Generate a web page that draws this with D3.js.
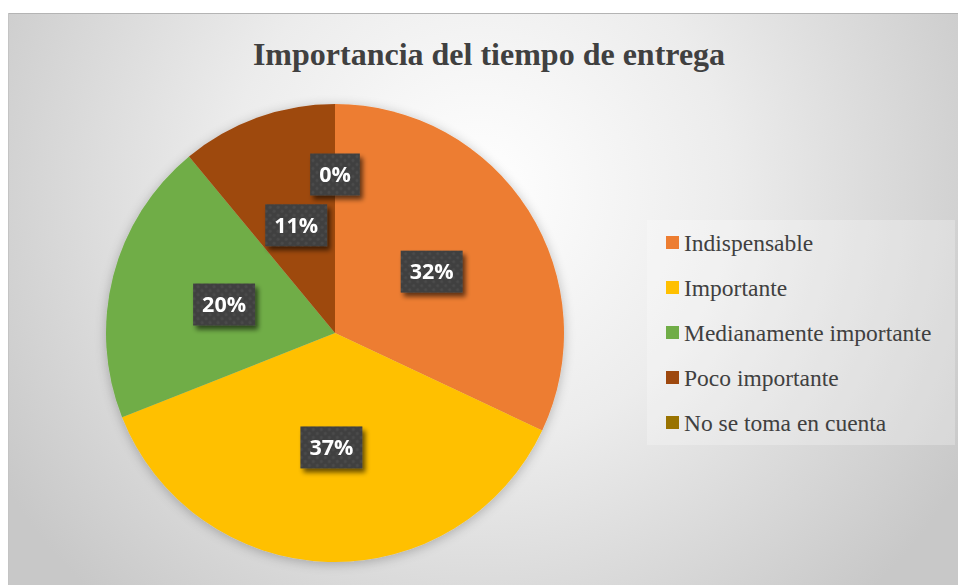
<!DOCTYPE html>
<html>
<head>
<meta charset="utf-8">
<script src="https://cdn.jsdelivr.net/npm/d3@7"></script>
<style>
  body { margin: 0; background: #ffffff; }
</style>
</head>
<body>
<div id="chart"></div>
<script>
var categories = ["Indispensable", "Importante", "Medianamente importante", "Poco importante", "No se toma en cuenta"];
var values = [32, 37, 20, 11, 0];
var colors = ["#ED7D31", "#FFC000", "#70AD47", "#9E480E", "#997300"];
var title = "Importancia del tiempo de entrega";

var W = 958, H = 585;

var svg = d3.select("#chart").append("svg")
  .attr("width", W)
  .attr("height", H);

var defs = svg.append("defs");

var bg = defs.append("radialGradient")
  .attr("id", "bg")
  .attr("gradientUnits", "userSpaceOnUse")
  .attr("cx", 480).attr("cy", 190).attr("r", 560);
bg.append("stop").attr("offset", "0%").attr("stop-color", "#ffffff");
bg.append("stop").attr("offset", "45%").attr("stop-color", "#ececec");
bg.append("stop").attr("offset", "100%").attr("stop-color", "#c8c8c8");

var pieShadow = defs.append("filter").attr("id", "pieShadow")
  .attr("x", "-20%").attr("y", "-20%").attr("width", "140%").attr("height", "140%");
pieShadow.append("feGaussianBlur").attr("in", "SourceAlpha").attr("stdDeviation", 6).attr("result", "b");
pieShadow.append("feOffset").attr("in", "b").attr("dx", 0).attr("dy", 2).attr("result", "o");
pieShadow.append("feComponentTransfer").attr("in", "o").attr("result", "s")
  .append("feFuncA").attr("type", "linear").attr("slope", 0.25);
var pm = pieShadow.append("feMerge");
pm.append("feMergeNode").attr("in", "s");
pm.append("feMergeNode").attr("in", "SourceGraphic");

var boxShadow = defs.append("filter").attr("id", "boxShadow")
  .attr("x", "-30%").attr("y", "-30%").attr("width", "170%").attr("height", "170%");
boxShadow.append("feGaussianBlur").attr("in", "SourceAlpha").attr("stdDeviation", 2.5).attr("result", "b");
boxShadow.append("feOffset").attr("in", "b").attr("dx", 3).attr("dy", 4).attr("result", "o");
boxShadow.append("feComponentTransfer").attr("in", "o").attr("result", "s")
  .append("feFuncA").attr("type", "linear").attr("slope", 0.6);
var bm = boxShadow.append("feMerge");
bm.append("feMergeNode").attr("in", "s");
bm.append("feMergeNode").attr("in", "SourceGraphic");

var dots = defs.append("pattern")
  .attr("id", "dots")
  .attr("patternUnits", "userSpaceOnUse")
  .attr("width", 8).attr("height", 8);
dots.append("rect").attr("width", 8).attr("height", 8).attr("fill", "#404040");
dots.append("circle").attr("cx", 2).attr("cy", 2).attr("r", 1.6).attr("fill", "#4b4b4b");
dots.append("circle").attr("cx", 6).attr("cy", 6).attr("r", 1.6).attr("fill", "#4b4b4b");

// chart area
svg.append("rect")
  .attr("x", 8).attr("y", 13)
  .attr("width", W).attr("height", H)
  .attr("fill", "url(#bg)");
svg.append("line")
  .attr("x1", 8).attr("x2", W).attr("y1", 13.5).attr("y2", 13.5)
  .attr("stroke", "#b4b4b4");
svg.append("line")
  .attr("x1", 8.5).attr("x2", 8.5).attr("y1", 13).attr("y2", H)
  .attr("stroke", "#c4c4c4");

svg.append("text")
  .attr("x", 489)
  .attr("y", 65)
  .attr("text-anchor", "middle")
  .attr("font-family", "Liberation Serif, Times New Roman, serif")
  .attr("font-weight", "bold")
  .attr("font-size", "32px")
  .attr("fill", "#404040")
  .text(title);

// pie
var cx = 335, cy = 333, radius = 229;

var pie = d3.pie().sort(null).value(function (d) { return d; });
var arcs = pie(values);
var arc = d3.arc().innerRadius(0).outerRadius(radius);

var g = svg.append("g")
  .attr("transform", "translate(" + cx + "," + cy + ")");

g.append("g")
  .attr("filter", "url(#pieShadow)")
  .selectAll("path")
  .data(arcs)
  .enter().append("path")
  .attr("d", arc)
  .attr("fill", function (d, i) { return colors[i]; });

// labels, pushed outward when they collide
var placed = [];
var labels = g.append("g");
arcs.forEach(function (d, i) {
  var lg = labels.append("g").attr("filter", "url(#boxShadow)");
  var rect = lg.append("rect").attr("fill", "url(#dots)");
  var t = lg.append("text")
    .attr("text-anchor", "middle")
    .attr("dy", "0.36em")
    .attr("font-family", "Open Sans")
    .attr("font-weight", "bold")
    .attr("font-size", "21.5px")
    .attr("fill", "#ffffff")
    .text(Math.round(d.value) + "%");
  var bw = t.node().getComputedTextLength() + 18, bh = 42;
  var a = (d.startAngle + d.endAngle) / 2;
  var r = radius * 0.5, x, y;
  function hits() {
    return placed.some(function (p) {
      return Math.abs(p.x - x) < (p.w + bw) / 2 + 2 && Math.abs(p.y - y) < (p.h + bh) / 2 + 8;
    });
  }
  do {
    x = r * Math.sin(a);
    y = -r * Math.cos(a);
    r += 2;
  } while (hits() && r < radius);
  placed.push({ x: x, y: y, w: bw, h: bh });
  lg.attr("transform", "translate(" + x + "," + y + ")");
  rect.attr("x", -bw / 2).attr("y", -bh / 2).attr("width", bw).attr("height", bh);
});

// legend
var legend = svg.append("g").attr("transform", "translate(647,220)");
legend.append("rect")
  .attr("width", 308).attr("height", 225)
  .attr("fill", "#ffffff").attr("fill-opacity", 0.25);

var item = legend.selectAll("g.item")
  .data(categories)
  .enter().append("g")
  .attr("class", "item")
  .attr("transform", function (d, i) { return "translate(19," + (23 + i * 45) + ")"; });
item.append("rect")
  .attr("x", 0).attr("y", -7)
  .attr("width", 13).attr("height", 13)
  .attr("fill", function (d, i) { return colors[i]; });
item.append("text")
  .attr("x", 18)
  .attr("dy", "0.33em")
  .attr("font-family", "Liberation Serif, Times New Roman, serif")
  .attr("font-size", "23.5px")
  .attr("fill", "#404040")
  .text(function (d) { return d; });
</script>
</body>
</html>
